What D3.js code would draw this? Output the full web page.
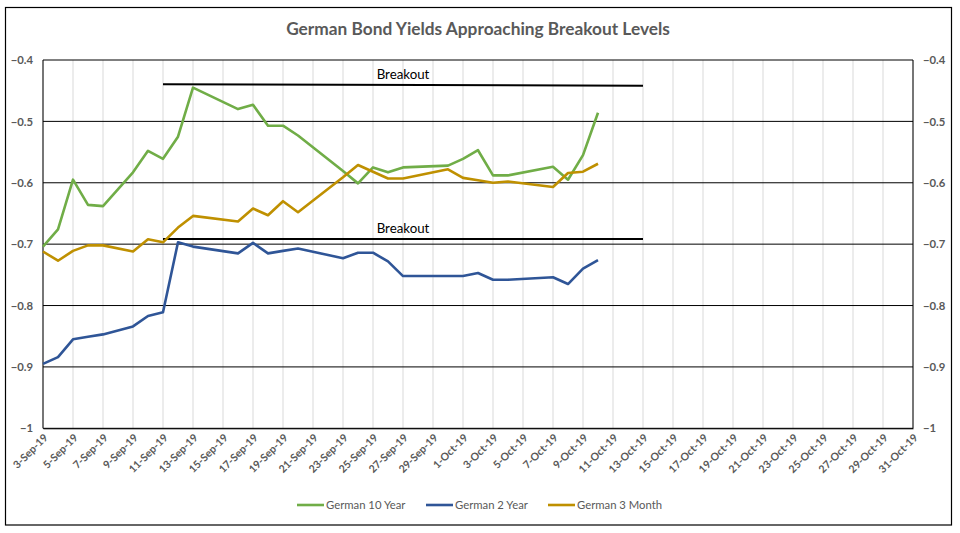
<!DOCTYPE html>
<html>
<head>
<meta charset="utf-8">
<script src="https://cdn.jsdelivr.net/npm/d3@7"></script>
<style>
  html, body { margin: 0; padding: 0; background: #fff; }
  svg { display: block; font-family: Lato, "Open Sans", sans-serif; }
</style>
</head>
<body>
<svg id="chart" width="960" height="533"></svg>
<script>
// ---------- data ----------
const dates = ["2019-09-03","2019-09-04","2019-09-05","2019-09-06","2019-09-07","2019-09-09","2019-09-10","2019-09-11","2019-09-12","2019-09-13",
  "2019-09-16","2019-09-17","2019-09-18","2019-09-19","2019-09-20","2019-09-23","2019-09-24","2019-09-25","2019-09-26","2019-09-27",
  "2019-09-30","2019-10-01","2019-10-02","2019-10-03","2019-10-04","2019-10-07","2019-10-08","2019-10-09","2019-10-10"];

const german10Y = [-0.704,-0.676,-0.595,-0.636,-0.638,-0.583,-0.548,-0.561,-0.525,-0.445,
  -0.480,-0.473,-0.507,-0.507,-0.523,-0.581,-0.601,-0.575,-0.583,-0.575,
  -0.572,-0.561,-0.547,-0.588,-0.588,-0.574,-0.595,-0.555,-0.486];

const german2Y = [-0.895,-0.884,-0.855,-0.851,-0.847,-0.834,-0.817,-0.811,-0.697,-0.704,
  -0.715,-0.698,-0.715,-0.711,-0.707,-0.723,-0.714,-0.714,-0.728,-0.752,
  -0.752,-0.752,-0.747,-0.758,-0.758,-0.754,-0.765,-0.740,-0.726];

const german3M = [-0.712,-0.727,-0.711,-0.702,-0.702,-0.712,-0.692,-0.697,-0.673,-0.654,
  -0.663,-0.642,-0.653,-0.630,-0.648,-0.591,-0.571,-0.582,-0.593,-0.593,
  -0.578,-0.592,-0.596,-0.600,-0.598,-0.607,-0.584,-0.582,-0.569];

const seriesNames = ["German 10 Year","German 2 Year","German 3 Month"];
const seriesColors = ["#70AD47","#2F5597","#BF9000"];

// breakout reference lines: [startDate, endDate], [startValue, endValue]
const breakoutDates = ["2019-09-11","2019-10-13"];
const upperBreakout = [-0.4395,-0.4418];
const lowerBreakout = [-0.6915,-0.6915];
const breakoutLabel = "Breakout";
const breakoutLabelDate = "2019-09-27";

const yTicks = [-0.4,-0.5,-0.6,-0.7,-0.8,-0.9,-1];
const xStart = "2019-09-03", xEnd = "2019-10-31";
const title = "German Bond Yields Approaching Breakout Levels";

// ---------- layout ----------
const parse = d3.timeParse("%Y-%m-%d");
const fmt = d => `${d.getDate()}-${d3.timeFormat("%b")(d)}-${d3.timeFormat("%y")(d)}`;
const svg = d3.select("#chart");
const L = 43, R = 913, T = 60, B = 428.3;
const gray = "#595959";

const x = d3.scaleTime().domain([parse(xStart), parse(xEnd)]).range([L, R]);
const y = d3.scaleLinear().domain([-1, -0.4]).range([B, T]);

// outer border
svg.append("rect").attr("x", 5.5).attr("y", 7.5).attr("width", 946).attr("height", 517.5)
  .attr("fill", "none").attr("stroke", "#000").attr("stroke-width", 1.2);

// title
svg.append("text").attr("x", 478).attr("y", 35).attr("text-anchor", "middle")
  .attr("font-size", 17.3).attr("font-weight", "bold").attr("fill", gray).text(title);

// vertical gridlines every 2 days
const xTicks = d3.timeDay.range(parse(xStart), d3.timeDay.offset(parse(xEnd), 1), 2);
svg.append("g").selectAll("line").data(xTicks).join("line")
  .attr("x1", d => x(d)).attr("x2", d => x(d)).attr("y1", T).attr("y2", B)
  .attr("stroke", "#D9D9D9").attr("stroke-width", 1);

// horizontal gridlines
svg.append("g").selectAll("line").data(yTicks).join("line")
  .attr("x1", L).attr("x2", R).attr("y1", d => y(d)).attr("y2", d => y(d))
  .attr("stroke", "#000").attr("stroke-width", 1);

// left/right axis lines
svg.append("line").attr("x1", L).attr("x2", L).attr("y1", T).attr("y2", B).attr("stroke", "#000");
svg.append("line").attr("x1", R).attr("x2", R).attr("y1", T).attr("y2", B).attr("stroke", "#000");

// y axes labels
const leftAxis = d3.axisLeft(y).tickValues(yTicks).tickSize(0).tickPadding(10).tickFormat(d => d3.format("")(+d.toFixed(1)));
const rightAxis = d3.axisRight(y).tickValues(yTicks).tickSize(0).tickPadding(10).tickFormat(d => d3.format("")(+d.toFixed(1)));
const gl = svg.append("g").attr("transform", `translate(${L},0)`).call(leftAxis);
const gr = svg.append("g").attr("transform", `translate(${R},0)`).call(rightAxis);
[gl, gr].forEach(g => {
  g.select(".domain").remove();
  g.selectAll("text").attr("font-size", 11.3).attr("font-weight", "bold").attr("fill", gray)
    .attr("font-family", "Lato, sans-serif");
});

// x axis labels
const xAxis = d3.axisBottom(x).tickValues(xTicks).tickSize(0).tickFormat(fmt);
const gx = svg.append("g").attr("transform", `translate(0,${B})`).call(xAxis);
gx.select(".domain").attr("stroke", "#000");
gx.selectAll("text").attr("font-size", 10.6).attr("font-weight", "bold").attr("fill", gray)
  .attr("font-family", "Lato, sans-serif")
  .attr("text-anchor", "end").attr("dy", null).attr("y", 0)
  .attr("transform", "translate(5,10) rotate(-45)");

// breakout lines
[upperBreakout, lowerBreakout].forEach(vals => {
  svg.append("line")
    .attr("x1", x(parse(breakoutDates[0]))).attr("x2", x(parse(breakoutDates[1])))
    .attr("y1", y(vals[0])).attr("y2", y(vals[1]))
    .attr("stroke", "#000").attr("stroke-width", 2);
  svg.append("text").attr("x", x(parse(breakoutLabelDate))).attr("y", y((vals[0] + vals[1]) / 2) - 6)
    .attr("text-anchor", "middle").attr("font-size", 13.3).attr("fill", "#000")
    .attr("font-family", "Lato, sans-serif").text(breakoutLabel);
});

// series lines
const allSeries = [german10Y, german2Y, german3M];
const line = d3.line().x(d => x(d.date)).y(d => y(d.value));
allSeries.forEach((vals, i) => {
  const pts = dates.map((d, j) => ({date: parse(d), value: vals[j]})).filter(p => p.value != null);
  svg.append("path").datum(pts).attr("d", line).attr("fill", "none")
    .attr("stroke", seriesColors[i]).attr("stroke-width", 2.6).attr("stroke-linejoin", "round");
});

// legend
const legendX = [297, 426, 548];
const lg = svg.append("g");
seriesNames.forEach((name, i) => {
  lg.append("line").attr("x1", legendX[i]).attr("x2", legendX[i] + 27).attr("y1", 505).attr("y2", 505)
    .attr("stroke", seriesColors[i]).attr("stroke-width", 2.6);
  lg.append("text").attr("x", legendX[i] + 29).attr("y", 509).attr("font-size", 11.3)
    .attr("fill", gray).attr("font-family", "Lato, sans-serif").text(name);
});
</script>
</body>
</html>
